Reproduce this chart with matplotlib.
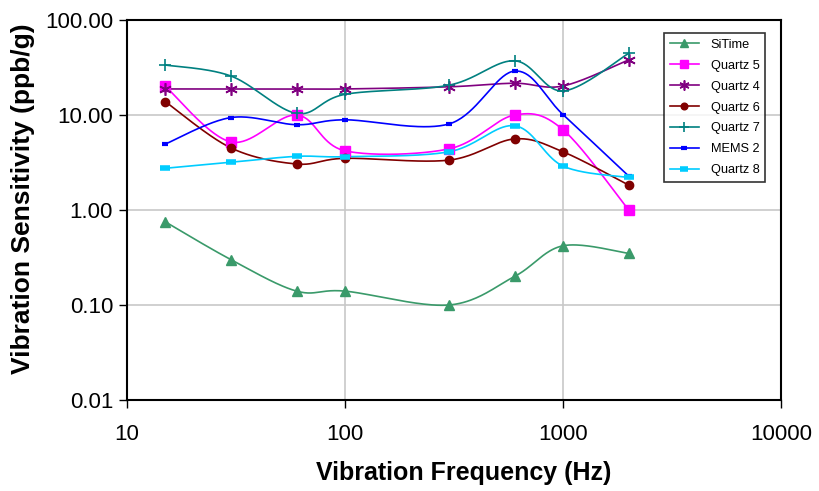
import numpy as np
import matplotlib
matplotlib.use("Agg")
import matplotlib.pyplot as plt
from matplotlib.ticker import FixedLocator, NullLocator, FixedFormatter

freq = [15, 30, 60, 100, 300, 600, 1000, 2000]
series_names = ["SiTime", "Quartz 5", "Quartz 4", "Quartz 6", "Quartz 7", "MEMS 2", "Quartz 8"]
sitime = [0.75, 0.30, 0.14, 0.14, 0.10, 0.20, 0.42, 0.35]
quartz5 = [20.0, 5.2, 10.0, 4.2, 4.4, 10.0, 7.0, 1.0]
quartz4 = [18.8, 18.8, 18.8, 18.8, 19.8, 21.6, 20.2, 38.0]
quartz6 = [13.8, 4.5, 3.05, 3.5, 3.35, 5.6, 4.1, 1.83]
quartz7 = [33.6, 25.7, 10.4, 16.5, 20.6, 37.2, 17.9, 44.5]
mems2 = [4.95, 9.4, 7.9, 8.9, 8.05, 29.0, 10.1, 2.28]
quartz8 = [2.75, 3.18, 3.67, 3.64, 4.1, 7.7, 2.9, 2.2]
values = [sitime, quartz5, quartz4, quartz6, quartz7, mems2, quartz8]

x_ticks = [10, 100, 1000, 10000]
x_labels = ["10", "100", "1000", "10000"]
y_ticks = [0.01, 0.1, 1, 10, 100]
y_labels = ["0.01", "0.10", "1.00", "10.00", "100.00"]

styles = [
    dict(color="#3A9A6A", marker="^", ms=7, mew=1),
    dict(color="#FF00FF", marker="s", ms=7, mew=1),
    dict(color="#800080", marker=(6, 2, 0), ms=9, mew=1.2),
    dict(color="#800000", marker="o", ms=6, mew=1),
    dict(color="#008080", marker="+", ms=9, mew=1.2),
    dict(color="#0000FF", marker="_", ms=5, mew=3),
    dict(color="#00CCFF", marker="_", ms=7, mew=4),
]


def smooth(xs, ys, n=40):
    P = np.column_stack([np.log10(xs), np.log10(ys)])
    m = len(P)
    out = []
    for i in range(m - 1):
        p0 = P[max(i - 1, 0)]
        p1 = P[i]
        p2 = P[i + 1]
        p3 = P[min(i + 2, m - 1)]
        b1 = p1 + (p2 - p0) / 6.0
        b2 = p2 - (p3 - p1) / 6.0
        t = np.linspace(0, 1, n)[:, None]
        seg = ((1 - t) ** 3) * p1 + 3 * ((1 - t) ** 2) * t * b1 + 3 * (1 - t) * t ** 2 * b2 + t ** 3 * p2
        out.append(seg if i == 0 else seg[1:])
    c = np.vstack(out)
    return 10 ** c[:, 0], 10 ** c[:, 1]


plt.rcParams["font.family"] = ["Liberation Sans", "DejaVu Sans"]
fig = plt.figure(figsize=(8.2, 4.91), dpi=100)
ax = fig.add_axes([127 / 820, 1 - 400 / 491, 654 / 820, 380 / 491])
ax.set_xscale("log")
ax.set_yscale("log")
ax.set_xlim(10, 10000)
ax.set_ylim(0.01, 100)

for name, vals, st in zip(series_names, values, styles):
    sx, sy = smooth(freq, vals)
    ax.plot(sx, sy, color=st["color"], lw=1.2, zorder=3)
    ax.plot(freq, vals, linestyle="none", marker=st["marker"], ms=st["ms"],
            mew=st["mew"], color=st["color"], mec=st["color"], zorder=4)
    ax.plot([], [], color=st["color"], lw=1.2, marker=st["marker"], ms=st["ms"] * 0.8,
            mew=st["mew"], mec=st["color"], label=name)

ax.xaxis.set_major_locator(FixedLocator(x_ticks))
ax.xaxis.set_major_formatter(FixedFormatter(x_labels))
ax.xaxis.set_minor_locator(NullLocator())
ax.yaxis.set_major_locator(FixedLocator(y_ticks))
ax.yaxis.set_major_formatter(FixedFormatter(y_labels))
ax.yaxis.set_minor_locator(NullLocator())
ax.grid(True, which="major", color="#C8C8C8", lw=1.2, zorder=0)
ax.set_axisbelow(True)
for sp in ax.spines.values():
    sp.set_linewidth(1.5)
    sp.set_color("black")
ax.tick_params(axis="both", direction="out", length=6, width=1, labelsize=16, pad=4)
ax.tick_params(axis="x", pad=11)

ax.set_xlabel("Vibration Frequency (Hz)", fontsize=18, fontweight="bold", labelpad=12)
ax.set_ylabel("Vibration Sensitivity (ppb/g)", fontsize=19, fontweight="bold", labelpad=7)
ax.xaxis.label.set_x(0.515)
ax.yaxis.label.set_y(0.529)

handles, labels = ax.get_legend_handles_labels()
leg = ax.legend(handles, labels, loc="upper left", bbox_to_anchor=(0.821, 0.966),
                fontsize=9.2, frameon=True, fancybox=False, edgecolor="black",
                handlelength=2.3, labelspacing=0.7, borderpad=0.45, handletextpad=0.9,
                borderaxespad=0)
leg.get_frame().set_linewidth(1.2)

fig.savefig("out.png", dpi=100)
